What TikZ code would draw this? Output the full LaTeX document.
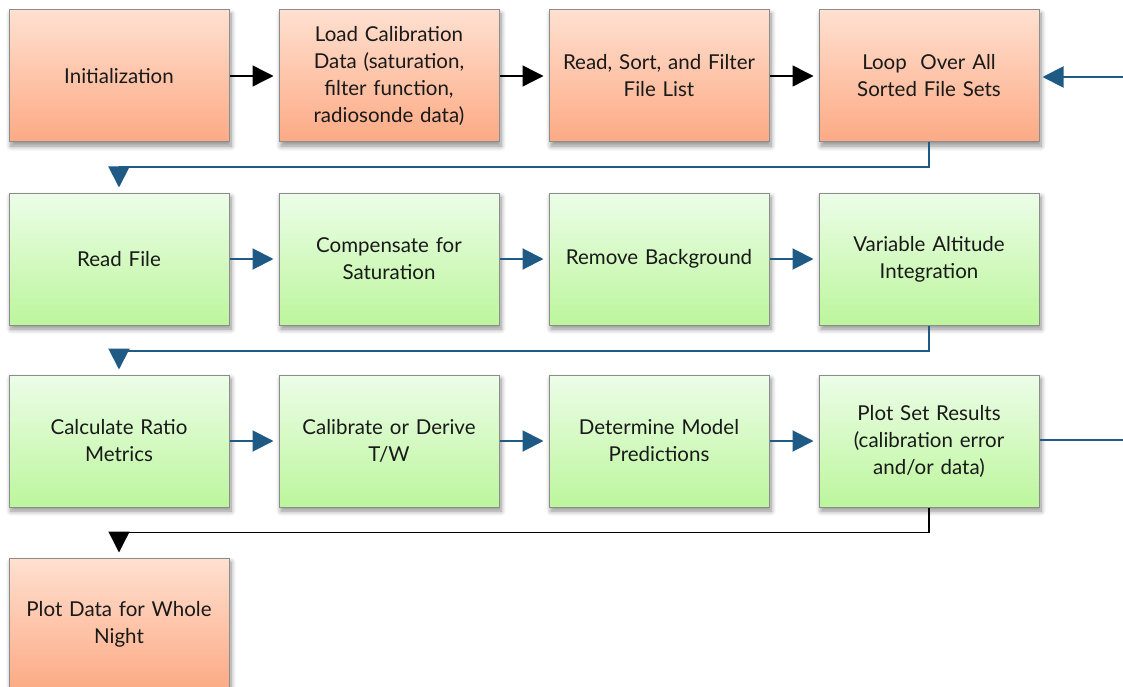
\documentclass[tikz,border=0pt]{standalone}
\usepackage{fontspec}
\setmainfont{Lato}
\usetikzlibrary{arrows.meta,shadows.blur}
\definecolor{otop}{RGB}{255,224,208}
\definecolor{obot}{RGB}{252,170,132}
\definecolor{gtop}{RGB}{236,253,232}
\definecolor{gbot}{RGB}{188,246,156}
\definecolor{bluearr}{RGB}{30,90,132}
\definecolor{boxline}{RGB}{140,140,140}
\definecolor{txt}{RGB}{25,25,25}
\tikzset{
  base/.style={rectangle, draw=boxline, line width=1pt, minimum width=220pt, minimum height=132pt,
    inner sep=0pt, align=center, text width=214pt, text=txt,
    font=\fontsize{20.5}{27}\selectfont,
    blur shadow={shadow xshift=2pt, shadow yshift=-4pt, shadow blur steps=8, shadow blur radius=5pt, shadow opacity=45}},
  obox/.style={base, top color=otop, bottom color=obot},
  gbox/.style={base, top color=gtop, bottom color=gbot},
  karr/.style={draw=black, line width=1.4pt, -{Triangle[length=21pt,width=21pt]}, shorten >=5pt},
  barr/.style={draw=bluearr, line width=2pt, -{Triangle[length=21pt,width=21pt]}, shorten >=5pt},
  bline/.style={draw=bluearr, line width=2pt},
}
\begin{document}
\begin{tikzpicture}[x=1pt,y=-1pt]
\useasboundingbox (0,0) rectangle (1123,687);
\clip (0,0) rectangle (1123,687);
% row 1
\node[obox] (a1) at (119,76) {Initialization};
\node[obox] (a2) at (389,76) {Load Calibration\\Data (saturation,\\filter function,\\radiosonde data)};
\node[obox] (a3) at (659,76) {Read, Sort, and Filter\\File List};
\node[obox] (a4) at (929,76) {Loop\ \ Over All\\Sorted File Sets};
% row 2
\node[gbox] (b1) at (119,259) {Read File};
\node[gbox] (b2) at (389,259) {Compensate for\\Saturation};
\node[gbox] (b3) at (659,259) {Remove Background};
\node[gbox] (b4) at (929,259) {Variable Altitude\\Integration};
% row 3
\node[gbox] (c1) at (119,441) {Calculate Ratio\\Metrics};
\node[gbox] (c2) at (389,441) {Calibrate or Derive\\T/W};
\node[gbox] (c3) at (659,441) {Determine Model\\Predictions};
\node[gbox] (c4) at (929,441) {Plot Set Results\\(calibration error\\and/or data)};
% row 4
\node[obox] (d1) at (119,624) {Plot Data for Whole\\Night};
% free ends
\coordinate (inR) at (1123,77);
\coordinate (outR) at (1123,440);
% connectors
\draw[karr] (a1) -- (a2);
\draw[karr] (a2) -- (a3);
\draw[karr] (a3) -- (a4);
\draw[barr, shorten >=3pt] (inR) -- (inR -| a4.east);
\draw[barr] (a4.south) -- ++(0,25) -| (b1.north);
\draw[barr] (b1) -- (b2);
\draw[barr] (b2) -- (b3);
\draw[barr] (b3) -- (b4);
\draw[barr] (b4.south) -- ++(0,25) -| (c1.north);
\draw[barr] (c1) -- (c2);
\draw[barr] (c2) -- (c3);
\draw[barr] (c3) -- (c4);
\draw[bline] (outR -| c4.east) -- (outR);
\draw[karr] (c4.south) -- ++(0,25) -| (d1.north);
\end{tikzpicture}
\end{document}
